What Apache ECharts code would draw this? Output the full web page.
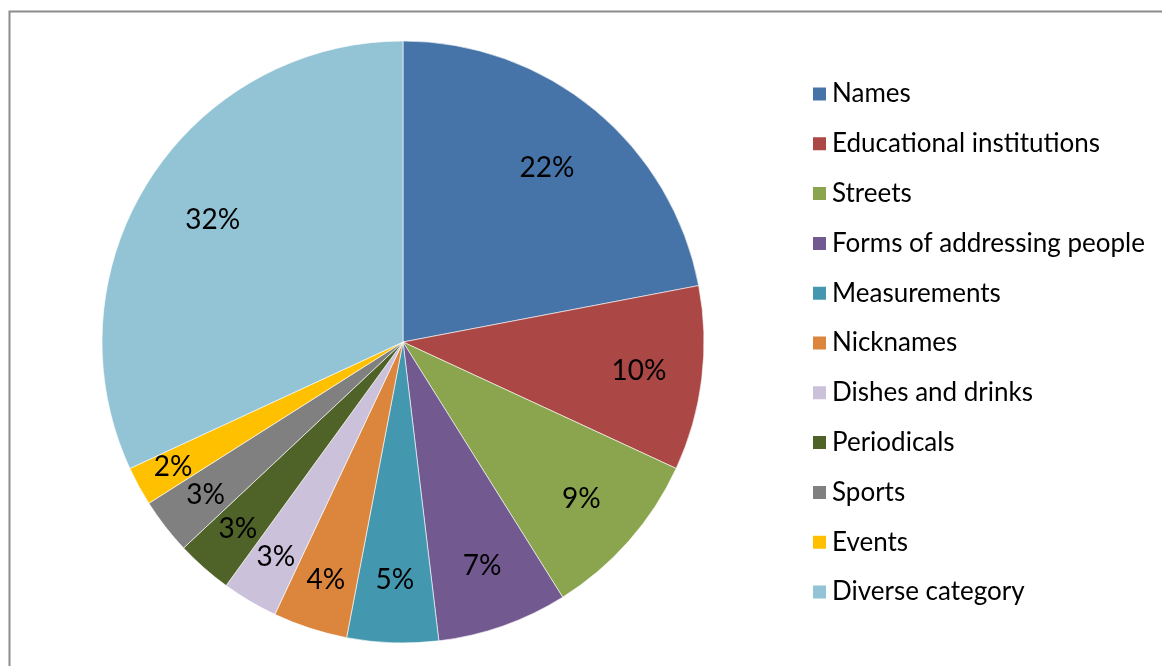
<!DOCTYPE html>
<html>
<head>
<meta charset="utf-8">
<script src="https://cdn.jsdelivr.net/npm/echarts@6/dist/echarts.min.js"></script>
<style>
  html, body { margin: 0; padding: 0; background: #fff; }
  #chart { width: 1162px; height: 666px; }
</style>
</head>
<body>
<div id="chart"></div>
<script>
// categories and shares (percent)
var categories = ['Names', 'Educational institutions', 'Streets', 'Forms of addressing people',
  'Measurements', 'Nicknames', 'Dishes and drinks', 'Periodicals', 'Sports', 'Events', 'Diverse category'];
var shares = [22, 9.9, 9.2, 7, 4.9, 4, 3, 3, 3, 2.1, 31.9];
var colors = ['#4673a8', '#ab4744', '#8ba54e', '#725990', '#4398af', '#dc853d',
  '#cbc1da', '#4f6228', '#808080', '#ffc000', '#93c4d5'];

var cx = 403, cy = 342, R = 301;   // pie centre and radius
var chart = echarts.init(document.getElementById('chart'));

var pieData = categories.map(function (name, i) {
  return { name: name, value: shares[i], itemStyle: { color: colors[i] } };
});

// Excel pushes the labels of thin slices further out
function labelRadius(v) {
  if (v < 2.5) return 0.87 * R;
  if (v < 4.5) return 0.83 * R;
  if (v < 15) return 0.79 * R;
  return 0.75 * R;
}

var option = {
  animation: false,
  graphic: [{
    type: 'rect',
    shape: { x: 9.5, y: 11.5, width: 1300, height: 800 },
    style: { fill: 'none', stroke: '#8c8c8c', lineWidth: 2 },
    silent: true
  }],
  legend: {
    orient: 'vertical',
    left: 806,
    top: 76,
    itemWidth: 15,
    itemHeight: 15,
    itemGap: 23.8,
    itemTextGap: 7,
    icon: 'rect',
    textStyle: { fontFamily: 'Lato', fontSize: 26, color: '#000' },
    data: categories
  },
  series: [{
    type: 'pie',
    center: [cx, cy],
    radius: R,
    startAngle: 90,
    clockwise: true,
    avoidLabelOverlap: false,
    itemStyle: { borderColor: '#fff', borderWidth: 0.6 },
    label: {
      show: true,
      position: 'inside',
      fontFamily: 'Lato',
      fontSize: 28,
      color: '#000',
      formatter: function (p) { return Math.round(p.value) + '%'; }
    },
    labelLine: { show: false },
    labelLayout: function (p) {
      var r = p.labelRect;
      var lx = r.x + r.width / 2, ly = r.y + r.height / 2;
      var d = Math.sqrt((lx - cx) * (lx - cx) + (ly - cy) * (ly - cy));
      var k = labelRadius(shares[p.dataIndex]) / d;
      return { x: cx + (lx - cx) * k, y: cy + (ly - cy) * k };
    },
    emphasis: { disabled: true },
    data: pieData
  }]
};
chart.setOption(option);
</script>
</body>
</html>
